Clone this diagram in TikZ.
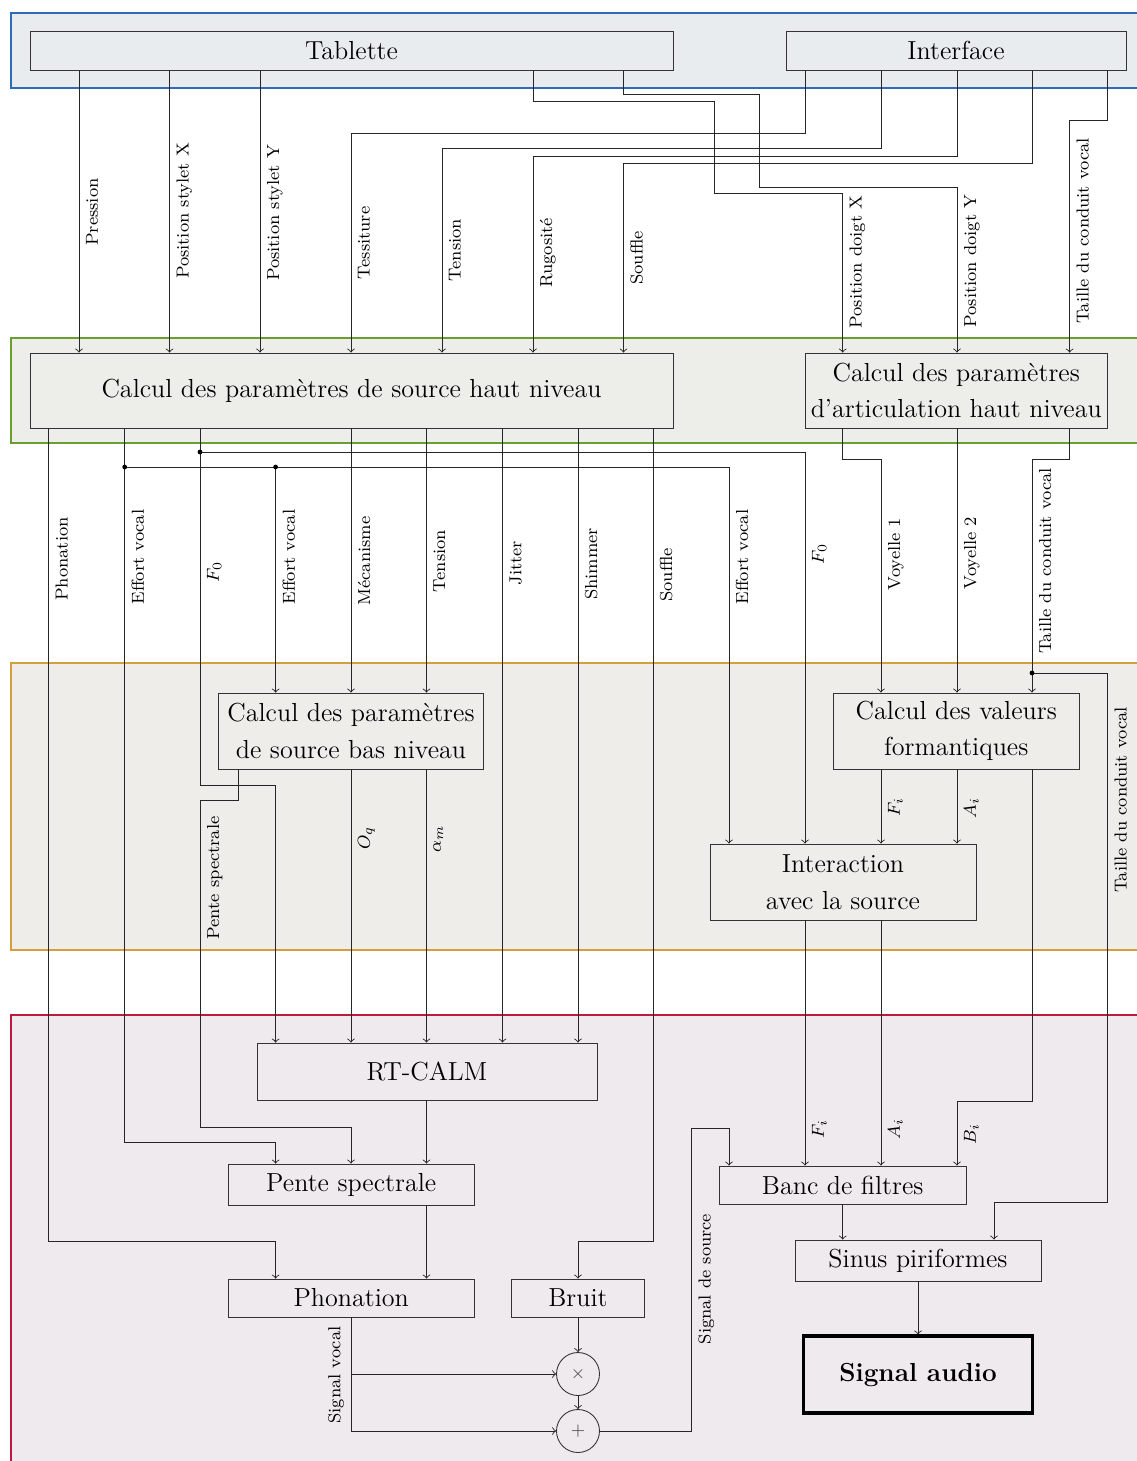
\documentclass[tikz,border=0pt]{standalone}
\usepackage{tikz}

\newcommand{\pxu}{0.46pt}

\definecolor{gBlue}{RGB}{46,108,183}
\definecolor{gBlueF}{RGB}{233,236,239}
\definecolor{gGreen}{RGB}{106,158,47}
\definecolor{gGreenF}{RGB}{237,238,234}
\definecolor{gOrange}{RGB}{212,160,58}
\definecolor{gOrangeF}{RGB}{238,237,234}
\definecolor{gRed}{RGB}{192,25,63}
\definecolor{gRedF}{RGB}{238,234,238}

\tikzset{
  grp/.style={line width=0.9pt},
  blk/.style={draw=black!80, rectangle, inner sep=0pt, align=center,
    font=\large\linespread{1.2}\selectfont},
  sz/.style 2 args={minimum width=#1*\pxu, minimum height=#2*\pxu},
  op/.style={draw=black!80, circle, minimum size=43*\pxu, inner sep=0pt,
    font=\footnotesize, text=black!70},
  lbl/.style={font=\footnotesize, rotate=90, anchor=north, inner sep=3pt},
  lbll/.style={lbl, anchor=south},
  con/.style={->, draw=black!85},
}

\begin{document}
\begin{tikzpicture}[x=\pxu, y=-\pxu]
  \useasboundingbox (0,0) rectangle (1136,1461);

  % groups
  \draw[grp, draw=gBlue, fill=gBlueF] (11,13) rectangle (1170,88);
  \draw[grp, draw=gGreen, fill=gGreenF] (11,338) rectangle (1170,443);
  \draw[grp, draw=gOrange, fill=gOrangeF] (11,663) rectangle (1170,950);
  \draw[grp, draw=gRed, fill=gRedF] (11,1015) rectangle (1170,1490);

  % columns
  \foreach \n/\x in {cPhon/48.7, cPres/79, cEff/124.7, cStX/169.5, cFz/200,
      cPente/238, cStY/260, cEffB/275.6, cMec/351, cTens/426.5, cTensI/442,
      cJit/502.5, cRug/533, cShim/578, cSouf/623.5, cSoufS/653, cEffI/729,
      cFzI/805, cDX/842.7, cVa/881, cVb/957, cSin/994, cTaille/1032,
      cTailleI/1069.6, cTailleO/1107.5}
    \coordinate (\n) at (\x,0);

  % blocks
  \node[blk, sz={643}{39}] (tab) at (351.5,50.5) {Tablette};
  \node[blk, sz={340}{39}] (itf) at (956,50.5) {Interface};
  \node[blk, sz={643}{75}] (hsrc) at (351.5,390.5) {Calcul des paramètres de source haut niveau};
  \node[blk, sz={302.5}{75}] (hart) at (956.25,390.5) {Calcul des paramètres\\d'articulation haut niveau};
  \node[blk, sz={265}{76}] (lsrc) at (351,731) {Calcul des paramètres\\de source bas niveau};
  \node[blk, sz={246.5}{76}] (form) at (956.25,731) {Calcul des valeurs\\formantiques};
  \node[blk, sz={266}{76}] (inter) at (843,882) {Interaction\\avec la source};
  \node[blk, sz={340}{57}] (calm) at (427,1071.5) {RT-CALM};
  \node[blk, sz={246.5}{41}] (pente) at (351.25,1184.5) {Pente spectrale};
  \node[blk, sz={246.5}{38}] (phon) at (351.25,1298) {Phonation};
  \node[blk, sz={132.5}{38}] (bruit) at (578,1298) {Bruit};
  \node[op] (mult) at (578,1374) {$\times$};
  \node[op] (add) at (578,1431) {$+$};
  \node[blk, sz={246.5}{38}] (banc) at (842.75,1185) {Banc de filtres};
  \node[blk, sz={246}{41}] (sinus) at (918,1260.5) {Sinus piriformes};
  \node[blk, sz={229}{77}, draw=black, line width=1.4pt, font=\large\bfseries] (audio) at (918,1374.5) {Signal audio};

  % tablette / interface -> haut niveau
  \draw[con] (tab.south -| cPres) -- (hsrc.north -| cPres);
  \draw[con] (tab.south -| cStX) -- (hsrc.north -| cStX);
  \draw[con] (tab.south -| cStY) -- (hsrc.north -| cStY);
  \draw[con] (tab.south -| cRug) |- (714,101) |- (842.7,193) -- (hart.north -| cDX);
  \draw[con] (tab.south -| cSouf) |- (759.5,94) |- (957,187) -- (hart.north -| cVb);
  \draw[con] (itf.south -| cFzI) |- (351,133) -- (hsrc.north -| cMec);
  \draw[con] (itf.south -| cVa) |- (442,148) -- (hsrc.north -| cTensI);
  \draw[con] (itf.south -| cVb) |- (533,156) -- (hsrc.north -| cRug);
  \draw[con] (itf.south -| cTaille) |- (623.5,163) -- (hsrc.north -| cSouf);
  \draw[con] (itf.south -| cTailleO) |- (1069.6,120) -- (hart.north -| cTailleI);

  \node[lbl] (lPres) at (79,212) {Pression};
  \node[lbl] (lStX) at (169.5,211) {Position stylet X};
  \node[lbl] (lStY) at (260,213) {Position stylet Y};
  \node[lbl] (lTess) at (351,243) {Tessiture};
  \node[lbl] (lTensH) at (442,250) {Tension};
  \node[lbl] (lRug) at (533,253) {Rugosité};
  \node[lbl] (lSoufH) at (623.5,258) {Souffle};
  \node[lbl] (lDX) at (842.7,262) {Position doigt X};
  \node[lbl] (lDY) at (957,261) {Position doigt Y};
  \node[lbl] (lTailH) at (1069.6,231) {Taille du conduit vocal};

  % haut niveau -> bas niveau
  \coordinate (dEv) at (124.7,467);
  \coordinate (dEvB) at (275.6,467);
  \coordinate (dFz) at (200,452);
  \coordinate (dTl) at (1032,673);
  \draw[con] (hsrc.south -| cPhon) |- (275.6,1241) -- (phon.north -| cEffB);
  \draw[con] (hsrc.south -| cEff) |- (275.6,1142) -- (pente.north -| cEffB);
  \draw[con] (dEv) -| (inter.north -| cEffI);
  \draw[con] (dEvB) -- (lsrc.north -| cEffB);
  \draw[con] (hsrc.south -| cFz) |- (275.6,785) -- (calm.north -| cEffB);
  \draw[con] (dFz) -| (inter.north -| cFzI);
  \draw[con] (hsrc.south -| cMec) -- (lsrc.north -| cMec);
  \draw[con] (hsrc.south -| cTens) -- (lsrc.north -| cTens);
  \draw[con] (hsrc.south -| cJit) -- (calm.north -| cJit);
  \draw[con] (hsrc.south -| cShim) -- (calm.north -| cShim);
  \draw[con] (hsrc.south -| cSoufS) |- (578,1241) -- (bruit.north);
  \draw[con] (hart.south -| cDX) |- (881,459) -- (form.north -| cVa);
  \draw[con] (hart.south -| cVb) -- (form.north -| cVb);
  \draw[con] (hart.south -| cTailleI) |- (1032,459) -- (form.north -| cTaille);
  \draw[con] (dTl) -| (1107.5,1202) -| (sinus.north -| cSin);
  \foreach \d in {dEv,dEvB,dFz,dTl}
    \fill (\d) circle (1.1pt);

  \node[lbl] (lPhon) at (48.7,559) {Phonation};
  \node[lbl] (lEff) at (124.7,557) {Effort vocal};
  \node[lbl] (lFz) at (200,572) {$F_0$};
  \node[lbl] (lEffB) at (275.6,557) {Effort vocal};
  \node[lbl] (lMec) at (351,561) {Mécanisme};
  \node[lbl] (lTens) at (426.5,561) {Tension};
  \node[lbl] (lJit) at (502.5,563) {Jitter};
  \node[lbl] (lShim) at (578,564) {Shimmer};
  \node[lbl] (lSouf) at (653,575) {Souffle};
  \node[lbl] (lEffI) at (729,557) {Effort vocal};
  \node[lbl] (lFzI) at (805,554) {$F_0$};
  \node[lbl] (lVa) at (881,554) {Voyelle 1};
  \node[lbl] (lVb) at (957,553) {Voyelle 2};
  \node[lbl] (lTail) at (1032,561) {Taille du conduit vocal};

  % bas niveau -> synthese
  \draw[con] (lsrc.south -| cPente) |- (200,800) |- (351,1127) -- (pente.north -| cMec);
  \draw[con] (lsrc.south -| cMec) -- (calm.north -| cMec);
  \draw[con] (lsrc.south -| cTens) -- (calm.north -| cTens);
  \draw[con] (form.south -| cVa) -- (inter.north -| cVa);
  \draw[con] (form.south -| cVb) -- (inter.north -| cVb);
  \draw[con] (form.south -| cTaille) |- (957,1101) -- (banc.north -| cVb);
  \draw[con] (inter.south -| cFzI) -- (banc.north -| cFzI);
  \draw[con] (inter.south -| cVa) -- (banc.north -| cVa);

  \node[lbl] (lPente) at (200,878) {Pente spectrale};
  \node[lbl] (lOq) at (351,838) {$O_q$};
  \node[lbl] (lAm) at (426.5,839) {$\alpha_m$};
  \node[lbl] (lFi) at (881,807) {$F_i$};
  \node[lbl] (lAi) at (957,808) {$A_i$};
  \node[lbl] (lTailO) at (1107.5,800) {Taille du conduit vocal};

  % synthese
  \draw[con] (calm.south -| cTens) -- (pente.north -| cTens);
  \draw[con] (pente.south -| cTens) -- (phon.north -| cTens);
  \draw[con] (phon.south) |- (mult.west);
  \draw[con] (phon.south) |- (add.west);
  \draw[con] (bruit.south) -- (mult.north);
  \draw[con] (mult.south) -- (add.north);
  \draw[con] (add.east) -| (691.5,1128) -| (banc.north -| cEffI);
  \draw[con] (banc.south -| cDX) -- (sinus.north -| cDX);
  \draw[con] (sinus.south) -- (audio.north);

  \node[lbl] (lFiB) at (805,1129) {$F_i$};
  \node[lbl] (lAiB) at (881,1129) {$A_i$};
  \node[lbl] (lBiB) at (957,1134) {$B_i$};
  \node[lbl] (lSrc) at (691.5,1279) {Signal de source};
  \node[lbll] (lVoc) at (351,1375) {Signal vocal};
\end{tikzpicture}
\end{document}
